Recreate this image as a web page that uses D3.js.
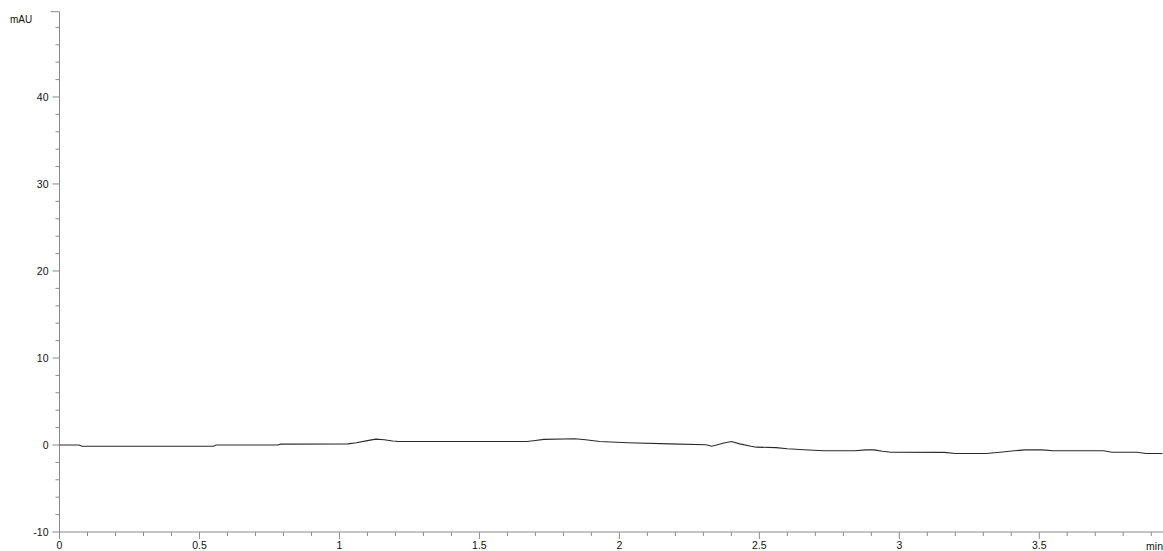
<!DOCTYPE html>
<html>
<head>
<meta charset="utf-8">
<script src="https://cdn.jsdelivr.net/npm/d3@7"></script>
<style>
  html, body { margin: 0; padding: 0; background: #fff; }
  svg { display: block; font-family: "Liberation Sans", Arial, sans-serif; }
</style>
</head>
<body>
<svg id="chart" width="1163" height="551"></svg>
<script>
// Chromatogram trace: retention time (min) vs absorbance (mAU)
const times = [0, 0.07, 0.08, 0.55, 0.56, 0.78, 0.79, 1.03, 1.06, 1.10, 1.13, 1.16, 1.19, 1.21,
  1.67, 1.70, 1.73, 1.84, 1.88, 1.93, 2.03, 2.18, 2.31, 2.33, 2.37, 2.40, 2.43, 2.47, 2.49,
  2.56, 2.60, 2.66, 2.73, 2.84, 2.88, 2.91, 2.94, 2.97, 3.16, 3.20, 3.31, 3.36, 3.41, 3.45,
  3.51, 3.55, 3.73, 3.76, 3.85, 3.88, 3.94];
const absorbance = [0, 0, -0.14, -0.14, 0, 0, 0.1, 0.13, 0.25, 0.5, 0.67, 0.6, 0.45, 0.4,
  0.4, 0.52, 0.65, 0.71, 0.6, 0.4, 0.25, 0.13, 0.02, -0.14, 0.2, 0.4, 0.13, -0.14, -0.25,
  -0.3, -0.44, -0.55, -0.67, -0.67, -0.56, -0.56, -0.71, -0.83, -0.85, -0.98, -0.98, -0.83, -0.67, -0.56,
  -0.56, -0.67, -0.67, -0.83, -0.83, -0.98, -0.98];

const xMajorTicks = [0, 0.5, 1, 1.5, 2, 2.5, 3, 3.5];
const xTickLabels = ["0", "0.5", "1", "1.5", "2", "2.5", "3", "3.5"];
const yMajorTicks = [-10, 0, 10, 20, 30, 40];
const yTickLabels = ["-10", "0", "10", "20", "30", "40"];
const xUnit = "min";
const yUnit = "mAU";

const data = times.map((t, i) => ({ t, v: absorbance[i] }));

const svg = d3.select("#chart");
const axisColor = "#8a8a8a";
const textColor = "#111";

const x = d3.scaleLinear().domain([0, 3.942]).range([59.5, 1163]);
const y = d3.scaleLinear().domain([-10, 49.8]).range([532, 11.7]);

// minor ticks every 0.1 min / 2 mAU
const xMinor = d3.range(0, 3.95, 0.1).map(d => +d.toFixed(2))
  .filter(d => !xMajorTicks.some(m => Math.abs(m - d) < 1e-6));
const yMinor = d3.range(-10, 50, 2)
  .filter(d => !yMajorTicks.some(m => Math.abs(m - d) < 1e-6));

const g = svg.append("g");

// y axis
const yAxis = g.append("g").attr("transform", `translate(${x(0)},0)`);
yAxis.append("line").attr("x1", 0).attr("x2", 0).attr("y1", y.range()[1]).attr("y2", y(-10))
  .attr("stroke", axisColor).attr("stroke-width", 1);
yAxis.append("line").attr("x1", -9).attr("x2", 0).attr("y1", y.range()[1]).attr("y2", y.range()[1])
  .attr("stroke", axisColor);
yAxis.selectAll(".ymaj").data(yMajorTicks).join("line")
  .attr("x1", -7).attr("x2", 0).attr("y1", d => y(d)).attr("y2", d => y(d))
  .attr("stroke", axisColor);
yAxis.selectAll(".ymin").data(yMinor).join("line")
  .attr("x1", -4).attr("x2", 0).attr("y1", d => y(d)).attr("y2", d => y(d))
  .attr("stroke", axisColor);
yAxis.selectAll("text").data(yMajorTicks).join("text")
  .attr("x", -11).attr("y", d => y(d)).attr("dy", "0.36em")
  .attr("text-anchor", "end").attr("font-size", 10.5).attr("fill", textColor)
  .text((d, i) => yTickLabels[i]);

svg.append("text").attr("x", 10).attr("y", 23).attr("font-size", 10)
  .attr("fill", textColor).text(yUnit);

// x axis
const xAxis = g.append("g").attr("transform", `translate(0,${y(-10)})`);
xAxis.append("line").attr("x1", x(0)).attr("x2", 1163).attr("y1", 0).attr("y2", 0)
  .attr("stroke", axisColor);
xAxis.selectAll(".xmaj").data(xMajorTicks).join("line")
  .attr("x1", d => x(d)).attr("x2", d => x(d)).attr("y1", 0).attr("y2", 7)
  .attr("stroke", axisColor);
xAxis.selectAll(".xmin").data(xMinor).join("line")
  .attr("x1", d => x(d)).attr("x2", d => x(d)).attr("y1", 0).attr("y2", 4)
  .attr("stroke", axisColor);
xAxis.selectAll("text").data(xMajorTicks).join("text")
  .attr("x", d => x(d)).attr("y", 17)
  .attr("text-anchor", "middle").attr("font-size", 10.5).attr("fill", textColor)
  .text((d, i) => xTickLabels[i]);

svg.append("rect").attr("x", 1142).attr("y", 539).attr("width", 21).attr("height", 12).attr("fill", "#fff");
svg.append("text").attr("x", 1163).attr("y", 549.5).attr("text-anchor", "end")
  .attr("font-size", 10.5).attr("fill", textColor).text(xUnit);

// trace
const line = d3.line().x(d => x(d.t)).y(d => y(d.v));
svg.append("path").datum(data).attr("d", line)
  .attr("fill", "none").attr("stroke", "#2a2a2a").attr("stroke-width", 1.1);
</script>
</body>
</html>
